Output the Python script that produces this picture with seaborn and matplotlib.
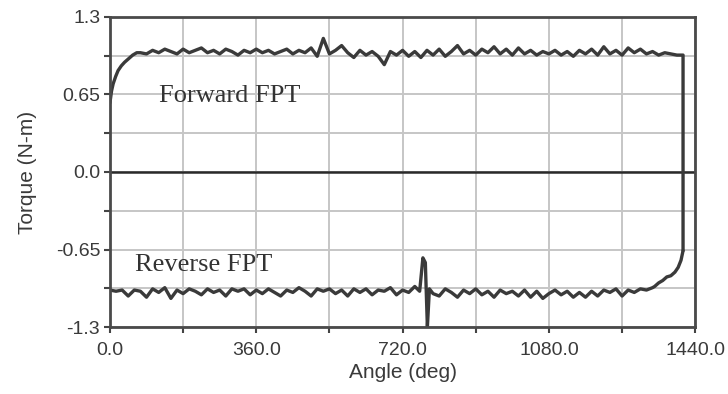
import numpy as np
import pandas as pd
import matplotlib
matplotlib.use("Agg")
import matplotlib.pyplot as plt
import seaborn as sns

# ---------------- data ----------------
fwd_angle = [0, 4, 8, 14, 20, 28, 36, 46, 56, 66,
             75, 90, 105, 120, 135, 150, 165, 180, 195, 210, 225, 240, 255, 270, 285, 300,
             315, 330, 345, 360, 375, 390, 405, 420, 435, 450, 465, 480, 495, 510, 525, 540,
             555, 570, 585, 600, 615, 630, 645, 660, 675, 690, 705, 720, 735, 750, 765, 780,
             795, 810, 825, 840, 855, 870, 885, 900, 915, 930, 945, 960, 975, 990, 1005, 1020,
             1035, 1050, 1065, 1080, 1095, 1110, 1125, 1140, 1155, 1170, 1185, 1200, 1215, 1230,
             1245, 1260, 1275, 1290, 1305, 1320, 1335, 1350, 1365, 1380, 1395, 1410, 1410]
fwd_torque = [0.58, 0.68, 0.74, 0.80, 0.85, 0.89, 0.92, 0.95, 0.98, 1.00,
              1.00, 0.99, 1.02, 1.00, 1.03, 1.01, 0.99, 1.03, 1.00, 1.02, 1.04, 1.00, 1.02, 0.99, 1.03, 1.01,
              0.98, 1.02, 1.00, 1.03, 1.00, 1.02, 0.99, 1.01, 1.03, 0.99, 1.02, 1.00, 1.04, 0.97, 1.12, 0.99,
              1.02, 1.06, 1.00, 0.96, 1.02, 0.98, 1.01, 0.97, 0.90, 1.01, 0.98, 1.02, 0.97, 1.01, 0.96, 1.02,
              0.98, 1.03, 0.97, 1.01, 1.06, 0.99, 1.02, 0.98, 1.03, 1.00, 1.05, 0.99, 1.03, 0.98, 1.04, 0.99,
              1.02, 0.98, 1.01, 0.99, 1.02, 0.98, 1.01, 0.97, 1.02, 0.99, 1.03, 0.98, 1.05, 0.99,
              1.02, 0.98, 1.04, 1.00, 1.03, 0.99, 1.01, 0.98, 1.00, 0.99, 0.98, 0.98, -0.66]

rev_angle = [0, 15, 30, 45, 60, 75, 90, 105, 120, 135, 150, 165, 180, 195, 210, 225, 240, 255,
             270, 285, 300, 315, 330, 345, 360, 375, 390, 405, 420, 435, 450, 465, 480, 495, 510,
             525, 540, 555, 570, 585, 600, 615, 630, 645, 660, 675, 690, 705, 720, 735, 750,
             762, 770, 776, 781, 786, 795, 810, 825, 840, 855, 870, 885, 900, 915, 930, 945, 960,
             975, 990, 1005, 1020, 1035, 1050, 1065, 1080, 1095, 1110, 1125, 1140, 1155, 1170,
             1185, 1200, 1215, 1230, 1245, 1260, 1275, 1290, 1305, 1320, 1335,
             1340, 1350, 1360, 1370, 1380, 1390, 1398, 1405, 1410]
rev_torque = [-0.99, -1.00, -0.99, -1.04, -0.99, -1.00, -1.05, -0.98, -1.01, -0.97, -1.06, -0.99, -1.02, -0.98, -1.00, -1.03, -0.98, -1.01,
              -0.99, -1.04, -0.98, -1.00, -0.98, -1.03, -0.99, -1.02, -0.98, -1.01, -1.04, -0.99, -1.01, -0.97, -1.00, -1.04, -0.98,
              -1.00, -0.98, -1.02, -0.99, -1.04, -0.98, -1.01, -0.98, -1.03, -0.99, -1.00, -0.97, -1.03, -0.99, -1.01, -0.96,
              -1.00, -0.72, -0.76, -1.30, -0.98, -1.02, -1.04, -0.98, -1.01, -1.05, -0.99, -1.02, -0.98, -1.03, -1.00, -1.05, -0.99,
              -1.02, -1.00, -1.04, -0.99, -1.05, -1.00, -1.06, -1.02, -0.99, -1.03, -1.00, -1.05, -1.01, -1.05,
              -1.00, -1.04, -0.99, -1.01, -0.98, -1.04, -0.99, -1.01, -0.98, -0.99, -0.97,
              -0.96, -0.93, -0.91, -0.88, -0.87, -0.84, -0.80, -0.74, -0.66]

x_ticks = [0, 360, 720, 1080, 1440]
x_ticklabels = ["0.0", "360.0", "720.0", "1080.0", "1440.0"]
x_minor = [180, 540, 900, 1260]
y_ticks = [-1.3, -0.65, 0.0, 0.65, 1.3]
y_ticklabels = ["-1.3", "-0.65", "0.0", "0.65", "1.3"]
y_minor = [-0.975, -0.325, 0.325, 0.975]

fwd = pd.DataFrame({"angle": fwd_angle, "torque": fwd_torque})
rev = pd.DataFrame({"angle": rev_angle, "torque": rev_torque})

# ---------------- plot ----------------
sns.set_theme(style="white")
plt.rcParams['font.family'] = ['Liberation Sans', 'DejaVu Sans']

fig = plt.figure(figsize=(7.28, 3.94), dpi=100)
ax = fig.add_axes([0.151, 0.170, 0.804, 0.787])

line_color = "#3a3a3a"
sns.lineplot(data=fwd, x="angle", y="torque", sort=False, estimator=None,
             color=line_color, linewidth=2.4, ax=ax)
sns.lineplot(data=rev, x="angle", y="torque", sort=False, estimator=None,
             color=line_color, linewidth=2.4, ax=ax)

ax.axhline(0, color="#2a2a2a", linewidth=1.8, zorder=1)

ax.set_xlim(0, 1440)
ax.set_ylim(-1.3, 1.3)
ax.set_xticks(x_ticks)
ax.set_xticklabels(x_ticklabels)
ax.set_xticks(x_minor, minor=True)
ax.set_yticks(y_ticks)
ax.set_yticklabels(y_ticklabels)
ax.set_yticks(y_minor, minor=True)

ax.grid(True, which="both", color="#c6c6c6", linewidth=1.4, zorder=0)
ax.set_axisbelow(True)

ax.tick_params(axis="both", which="both", direction="out", length=4, width=1.5,
               color="#444444", labelsize=14, labelcolor="#3a3a3a",
               bottom=True, left=True)
ax.tick_params(axis="x", pad=7)
ax.tick_params(axis="y", pad=3)

for s in ax.spines.values():
    s.set_color("#4a4a4a")
    s.set_linewidth(2.0)
    s.set_visible(True)

ax.set_xlabel("Angle (deg)", fontsize=15, color="#3a3a3a", labelpad=3)
ax.set_ylabel("Torque (N-m)", fontsize=15, color="#3a3a3a")
ax.yaxis.set_label_coords(-0.125, 0.5)

ax.text(120, 0.64, "Forward FPT", family=["Liberation Serif"], fontsize=19,
        color="#333333", va="center", ha="left")
ax.text(62, -0.78, "Reverse FPT", family=["Liberation Serif"], fontsize=19,
        color="#333333", va="center", ha="left")

fig.savefig("out.png", dpi=100)
